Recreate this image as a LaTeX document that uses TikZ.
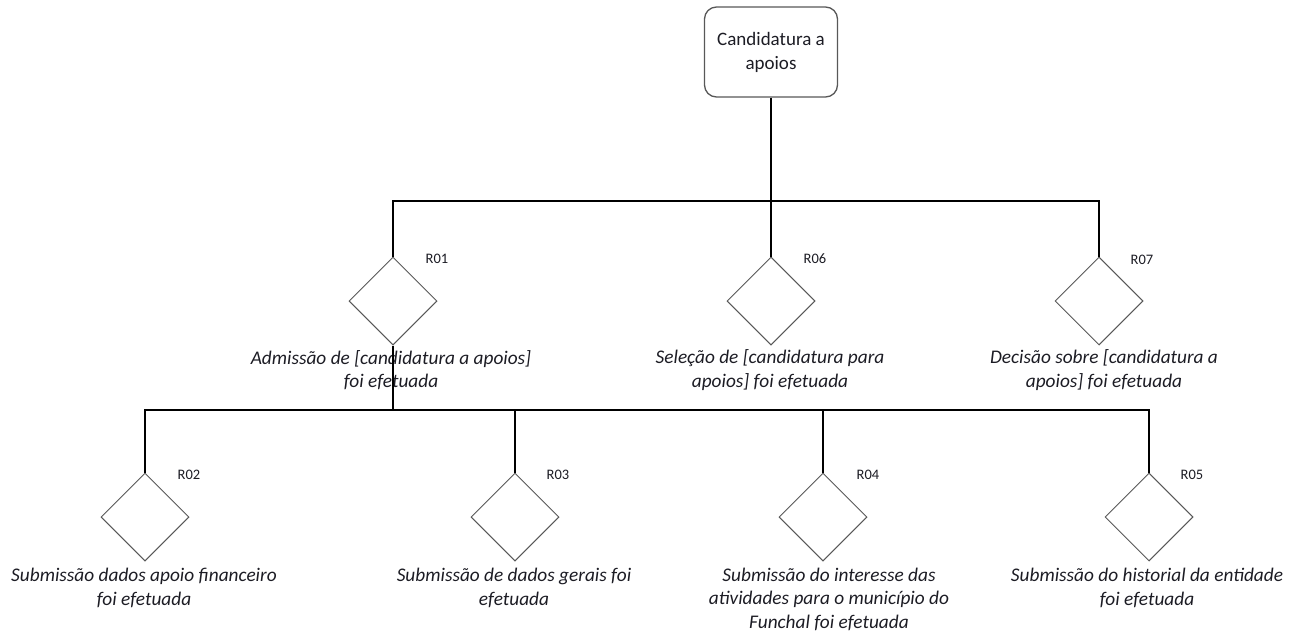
\documentclass[tikz,border=0pt]{standalone}
\usepackage{fontspec}
\setmainfont{Carlito}
\usetikzlibrary{shapes.geometric}
\definecolor{ink}{RGB}{28,28,36}
\definecolor{shape}{RGB}{88,88,88}
\begin{document}
\begin{tikzpicture}[x=1pt,y=-1pt,
  tree/.style={draw=black,line width=1.3pt},
  rootbox/.style={draw=shape,line width=1.3pt,rounded corners=12pt,
    minimum width=133pt,minimum height=90pt,inner sep=0pt,align=center,
    font=\fontsize{19}{24}\selectfont,text=ink},
  rule/.style={diamond,draw=shape,line width=1pt,aspect=1,
    minimum width=88pt,minimum height=88pt,inner sep=0pt},
  rid/.style={font=\fontsize{14.5}{16}\selectfont,text=ink,inner sep=0pt},
  desc/.style={font=\fontsize{19.3}{23.5}\selectfont\itshape,text=ink,
    align=center,inner sep=0pt}]
\useasboundingbox (0,0) rectangle (1296,633);

% root
\node[rootbox] (top) at (771,52) {Candidatura a\\apoios};

% first level rules
\node[rule] (d1) at (393,301) {};
\node[rule] (d6) at (771,301) {};
\node[rule] (d7) at (1099,301) {};
\node[rid] (r1) at (437,259) {R01};
\node[rid] (r6) at (815,259) {R06};
\node[rid] (r7) at (1142,260) {R07};
\node[desc] (t1) at (391,370) {Admissão de [candidatura a apoios]\\foi efetuada};
\node[desc] (t6) at (770,370) {Seleção de [candidatura para\\apoios] foi efetuada};
\node[desc] (t7) at (1104,370) {Decisão sobre [candidatura a\\apoios] foi efetuada};

% second level rules
\node[rule] (d2) at (145,517) {};
\node[rule] (d3) at (515,517) {};
\node[rule] (d4) at (823,517) {};
\node[rule] (d5) at (1149,517) {};
\node[rid] (r2) at (189,475) {R02};
\node[rid] (r3) at (558,475) {R03};
\node[rid] (r4) at (868,475) {R04};
\node[rid] (r5) at (1192,475) {R05};
\node[desc] (t2) at (144,588) {Submissão dados apoio financeiro\\foi efetuada};
\node[desc] (t3) at (514,588) {Submissão de dados gerais foi\\efetuada};
\node[desc] (t4) at (829,599) {Submissão do interesse das\\atividades para o município do\\Funchal foi efetuada};
\node[desc] (t5) at (1147,588) {Submissão do historial da entidade\\foi efetuada};

% connector buses
\coordinate (bus1) at (771,201);
\coordinate (bus2) at (393,410);

\draw[tree] (top.south) -- (bus1);
\draw[tree] (d1.north) -- (d1.north |- bus1) -- (d7.north |- bus1) -- (d7.north);
\draw[tree] (d6.north) -- (d6.north |- bus1);

\draw[tree] (d1.south) -- (bus2);
\draw[tree] (d2.north) -- (d2.north |- bus2) -- (d5.north |- bus2) -- (d5.north);
\draw[tree] (d3.north) -- (d3.north |- bus2);
\draw[tree] (d4.north) -- (d4.north |- bus2);
\end{tikzpicture}
\end{document}
